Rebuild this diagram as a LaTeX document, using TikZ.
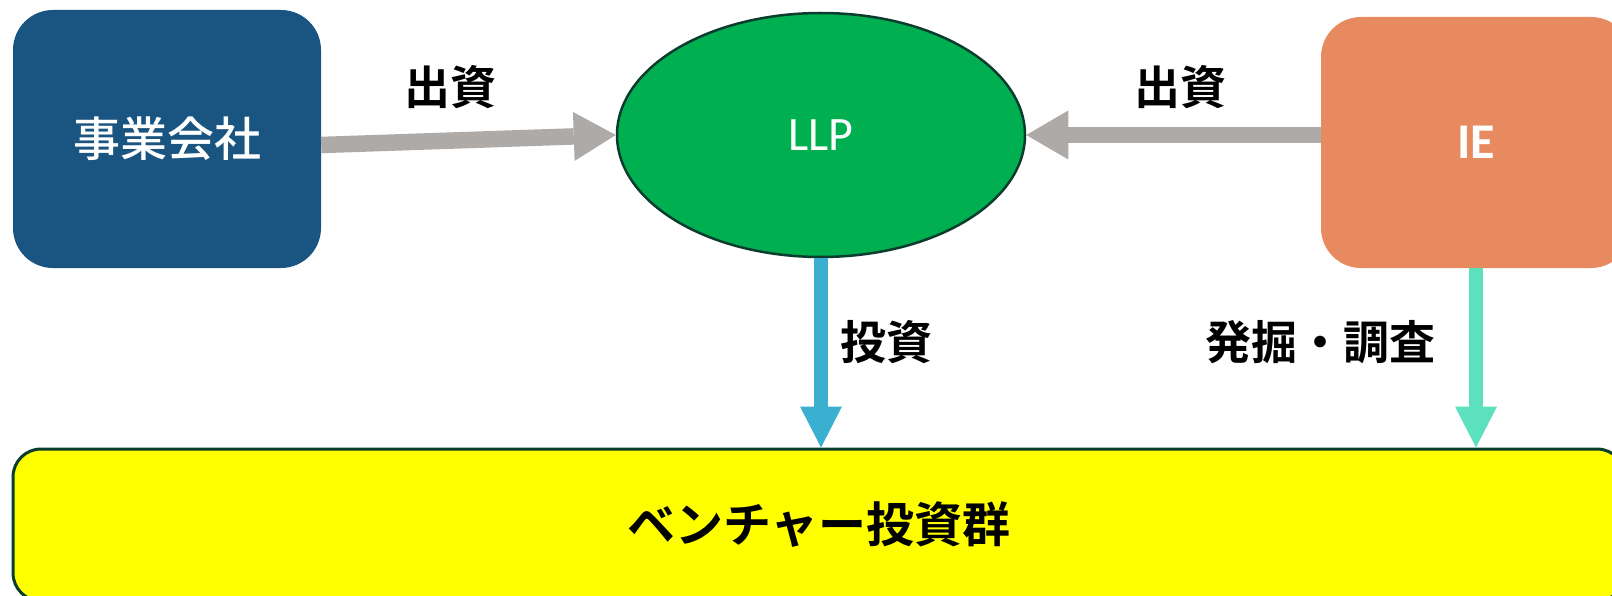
\documentclass[tikz,border=0pt]{standalone}
\usepackage{fontspec}
\newfontfamily\jpfont{Noto Sans CJK JP}[BoldFont={Noto Sans CJK JP Bold}]
\newfontfamily\jpmed{Noto Sans CJK JP Medium}
\newfontfamily\carlito{Carlito}
\usetikzlibrary{arrows.meta,shapes.geometric}
\definecolor{cblue}{HTML}{1A5480}
\definecolor{cgreen}{HTML}{00B050}
\definecolor{cdk}{HTML}{0B3D2E}
\definecolor{corange}{HTML}{E88A60}
\definecolor{cgray}{HTML}{AEAAA8}
\definecolor{cbluearr}{HTML}{3AAFD0}
\definecolor{cteal}{HTML}{5CE0BD}
\definecolor{cyellow}{HTML}{FFFF00}
\tikzset{
  rbox/.style={inner sep=0pt, rounded corners=40pt},
  lbl/.style={inner sep=0pt, text=black, font={\jpfont\bfseries\fontsize{46pt}{50pt}\selectfont}},
  garrow/.style={draw=cgray, line width=16.5pt, -{Triangle[length=42pt,width=49pt,line width=0pt]}, color=cgray},
  barrow/.style={line width=14.5pt, -{Triangle[length=41pt,width=42pt,line width=0pt]}, color=cbluearr},
  tarrow/.style={line width=14.5pt, -{Triangle[length=41pt,width=42pt,line width=0pt]}, color=cteal}
}
\begin{document}
\begin{tikzpicture}[x=1pt,y=-1pt]
\clip (0,0) rectangle (1612,596);
\fill[white] (0,0) rectangle (1612,596);
% nodes
\node[rbox, fill=cblue, minimum width=308pt, minimum height=258pt, text=white,
      font={\jpmed\fontsize{47pt}{50pt}\selectfont}] (co) at (167,139) {事業会社};
\node[ellipse, draw=cdk, line width=2.5pt, fill=cgreen, minimum width=408pt, minimum height=244pt,
      inner sep=0pt, text=white, font={\carlito\fontsize{48pt}{50pt}\selectfont}] (llp) at (821,135) {LLP};
\node[rbox, fill=corange, minimum width=310pt, minimum height=251pt, text=white,
      font={\carlito\bfseries\fontsize{50pt}{52pt}\selectfont}] (ie) at (1476,142.5) {IE};
\node[draw=cdk, line width=3pt, fill=cyellow, rounded corners=28pt, inner sep=0pt,
      minimum width=1612pt, minimum height=152pt,
      font={\jpfont\bfseries\fontsize{48pt}{50pt}\selectfont}] (vb) at (819,525) {ベンチャー投資群};
% connectors
\draw[garrow] ([yshift=-6pt]co.east) -- (llp.west);
\draw[garrow] ([yshift=7.5pt]ie.west) -- (llp.east);
\draw[barrow] (llp.south) -- (llp.south |- vb.north);
\draw[tarrow] (ie.south) -- (ie.south |- vb.north);
% labels
\node[lbl] (l1) at (450,87) {出資};
\node[lbl] (l2) at (1180,87) {出資};
\node[lbl] (l3) at (886,342) {投資};
\node[lbl] (l4) at (1320,342) {発掘・調査};
\end{tikzpicture}
\end{document}
